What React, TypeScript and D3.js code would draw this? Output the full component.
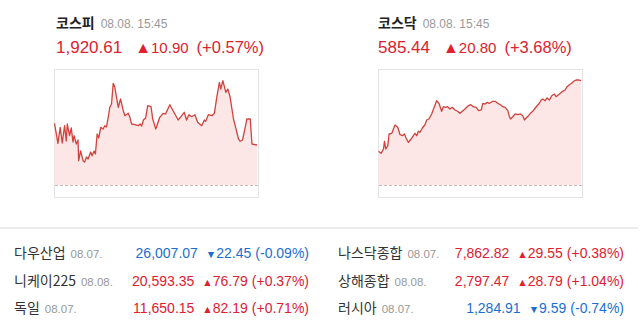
import React from "react";
import * as d3 from "d3";

// ---- KOSPI intraday (minutes from open, index value) ----
const kospiTime = [0,6.6,11,14.9,19.4,22.7,24.6,29,32.3,35.6,37.6,42,45.3,46.5,50.3,55,58.1,61.4,64.7,69.7,72.4,76.3,78.8,82.1,85.2,89.1,93.7,96.8,100.1,103.4,106.5,109.8,113.1,116.2,119.5,122.8,127.2,132.5,135.6,142.1,145.2,148.5,154.9,161.5,164.6,167.9,171.2,175.6,179.5,185.9,189.2,195,196.3,202.7,209.1,213.8,222.1,226.6,231.8,238.2,243.4,249.8,254.4,258.9,264.1,270.5,275.7,283.5,288.5,291.2,296.3,302.9,307.9,312.5,317.6,320.3,324.2,330,333.8,338.3,344.7,348,354.4,357.6,362.1,367.3,370.6,377,380.3,390];
const kospiValue = [1926.52,1921.07,1925.43,1921.16,1925.87,1921.70,1926.33,1923.14,1925.24,1921.43,1923.14,1920.88,1921.97,1916.33,1918.98,1916.33,1915.98,1917.34,1916.80,1918.70,1917.69,1918.98,1918.16,1923.61,1922.52,1925.43,1924.97,1925.87,1925.52,1928.16,1930.88,1931.78,1937.42,1936.33,1933.61,1930.88,1933.15,1929.96,1928.59,1929.25,1928.16,1926.33,1926.14,1925.87,1926.33,1925.79,1927.42,1927.97,1931.32,1931.05,1927.70,1924.97,1925.43,1928.16,1929.25,1929.06,1931.59,1930.42,1929.06,1927.42,1928.32,1929.52,1927.42,1928.87,1928.32,1928.87,1926.80,1925.87,1927.42,1927.07,1928.87,1928.59,1929.25,1933.61,1937.70,1935.87,1938.13,1934.97,1935.87,1933.61,1927.70,1925.87,1922.25,1921.62,1921.97,1925.43,1927.70,1927.70,1920.88,1920.61];

// ---- KOSDAQ intraday ----
const kosdaqTime = [0,5,9.6,11.5,14,17.9,20.4,25.6,28.8,31.9,37.1,41.5,46.1,50,53,57.6,62.6,67.2,70.3,73.6,76.8,79.9,84.5,89.5,92.8,97.2,102.4,107.6,112,116.4,121.6,124.9,129.3,133.1,137.5,142.2,147.2,152.3,156.8,161.4,166.4,172.9,177.9,182.5,188.2,192.7,197.9,200.9,205.6,209.4,213.8,220.2,224.8,229.8,235,239.4,244,249,252.3,254.2,258.6,263.2,268.2,273.4,277.8,281.1,284.3,288.8,292.6,297.1,300.3,305.5,309.9,313.2,316.3,320.9,324.7,329.2,333.6,338.8,342,346.5,350.3,354.7,359.4,363.2,367.6,372.1,375.9,380.5,384.9,390];
const kosdaqValue = [571.36,570.96,571.82,573.35,571.82,572.48,574.81,574.95,575.81,576.60,576.15,574.67,574.47,574.81,574.01,573.15,573.81,574.47,574.95,574.47,575.35,575.15,576.01,576.66,577.60,577.80,578.80,580.25,581.45,580.93,579.34,580.25,580.13,580.25,579.79,580.13,579.60,579.34,578.94,579.34,579.79,580.45,580.65,580.25,580.13,579.46,579.60,580.93,580.79,581.13,580.93,581.33,581.33,580.93,580.65,580.25,580.13,579.46,578.26,577.80,578.26,578.80,578.66,578.80,578.46,577.60,578.00,578.46,578.94,579.34,579.79,580.45,580.93,581.59,581.79,581.45,581.99,581.59,582.45,582.79,582.25,582.65,582.92,583.32,583.58,584.24,584.64,584.92,585.32,585.58,585.58,585.44];

// ---- headline figures ----
const mainNames = ["코스피", "코스닥"];
const mainTimes = ["08.08. 15:45", "08.08. 15:45"];
const mainValues = ["1,920.61", "585.44"];
const mainChanges = ["10.90", "20.80"];
const mainPcts = ["(+0.57%)", "(+3.68%)"];
const mainPrev = [1909.71, 564.64];
const mainDomains: [number, number][] = [[1906.44, 1941.32], [562.25, 587.77]];

// ---- world indices table ----
const worldNames = ["다우산업", "니케이225", "독일", "나스닥종합", "상해종합", "러시아"];
const worldDates = ["08.07.", "08.08.", "08.07.", "08.07.", "08.08.", "08.07."];
const worldValues = ["26,007.07", "20,593.35", "11,650.15", "7,862.82", "2,797.47", "1,284.91"];
const worldChanges = ["22.45", "76.79", "82.19", "29.55", "28.79", "9.59"];
const worldPcts = ["(-0.09%)", "(+0.37%)", "(+0.71%)", "(+0.38%)", "(+1.04%)", "(-0.74%)"];
const worldUp = [false, true, true, true, true, false];

const RED = "#e0202f";
const BLUE = "#1a6fd0";
const KR = "'Noto Sans CJK KR', sans-serif";
const NUM = "'Liberation Sans', Arial, sans-serif";

function MiniChart({ idx, x0 }: { idx: number; x0: number }) {
  const times = idx === 0 ? kospiTime : kosdaqTime;
  const vals = idx === 0 ? kospiValue : kosdaqValue;
  const w = 204;
  const top = 69;
  const bottom = 197;
  const xs = d3.scaleLinear().domain([0, 390]).range([x0 + 0.5, x0 + w - 1]);
  const ys = d3.scaleLinear().domain(mainDomains[idx]).range([bottom, top]);
  const data = times.map((t, i) => [t, vals[i]] as [number, number]);
  const baseY = ys(mainPrev[idx]);
  const line = d3.line<[number, number]>().x(d => xs(d[0])).y(d => ys(d[1]))(data) || "";
  const area = d3.area<[number, number]>().x(d => xs(d[0])).y0(baseY).y1(d => ys(d[1]))(data) || "";
  return (
    <g>
      <rect x={x0 + 0.5} y={top + 0.5} width={w} height={bottom - top} fill="#fff" stroke="#e3e3e3" />
      <path d={area} fill="#fde6e6" />
      <line x1={x0 + 1} x2={x0 + w} y1={Math.round(baseY) + 0.5} y2={Math.round(baseY) + 0.5} stroke="#bdbdbd" strokeDasharray="3,2" />
      <path d={line} fill="none" stroke="#d2423c" strokeWidth={1.3} strokeLinejoin="round" />
    </g>
  );
}

function Header({ idx, x0 }: { idx: number; x0: number }) {
  return (
    <g>
      <text x={x0} y={28} fontFamily={KR} fontWeight="bold" fontSize={14} fill="#222">
        {mainNames[idx]}
        <tspan dx={6} fontFamily={NUM} fontWeight="normal" fontSize={12} fill="#999">{mainTimes[idx]}</tspan>
      </text>
      <text x={x0} y={53} fontFamily={NUM} fontSize={17} fill={RED}>
        {mainValues[idx]}
        <tspan dx={13} fontSize={16}>▲</tspan>
        <tspan dx={0} fontSize={15}>{mainChanges[idx]}</tspan>
        <tspan dx={8} fontSize={16.5}>{mainPcts[idx]}</tspan>
      </text>
    </g>
  );
}

function WorldRow({ i }: { i: number }) {
  const col = i < 3 ? 0 : 1;
  const row = i % 3;
  const xName = col === 0 ? 14 : 338;
  const xEnd = col === 0 ? 309 : 624;
  const y = 258 + row * 27.5;
  const color = worldUp[i] ? RED : BLUE;
  return (
    <g>
      <text x={xName} y={y} fontFamily={KR} fontSize={14} fill="#333">
        {worldNames[i]}
        <tspan dx={5} fontFamily={NUM} fontSize={11.5} fill="#999">{worldDates[i]}</tspan>
      </text>
      <text x={xEnd} y={y} textAnchor="end" fontFamily={NUM} fontSize={14} fill={color}>
        {worldValues[i]}
        <tspan dx={8} fontSize={10.5}>{worldUp[i] ? "▲" : "▼"}</tspan>
        <tspan fontSize={14}>{worldChanges[i]}</tspan>
        <tspan dx={4} fontSize={14}>{worldPcts[i]}</tspan>
      </text>
    </g>
  );
}

export default function App() {
  return (
    <svg width={640} height={330} style={{ position: "absolute", left: 0, top: 0, background: "#fff" }}>
      <rect x={0} y={0} width={640} height={330} fill="#fff" />
      <Header idx={0} x0={56} />
      <Header idx={1} x0={378} />
      <MiniChart idx={0} x0={54} />
      <MiniChart idx={1} x0={378} />
      <rect x={0} y={227} width={638} height={2} fill="#ececec" />
      {worldNames.map((_, i) => <WorldRow key={i} i={i} />)}
    </svg>
  );
}
